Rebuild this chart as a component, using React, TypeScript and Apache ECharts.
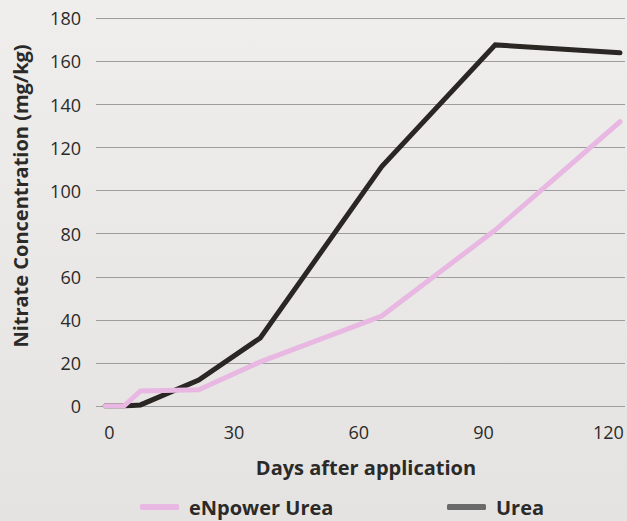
import React, { useEffect, useRef } from "react";
import * as echarts from "echarts";

const days = [-1, 3.5, 7.5, 21.5, 36.3, 65.5, 92.8, 122.8];
const enpowerUrea = [0, 0, 7, 7.5, 20.5, 41.8, 81.7, 132];
const urea = [0, 0, 0.5, 12, 31.6, 111.2, 167.7, 164];
const xTickLabels = [0, 30, 60, 90, 120];
const seriesNames = ["eNpower Urea", "Urea"];
const yAxisTitle = "Nitrate Concentration (mg/kg)";
const xAxisTitle = "Days after application";

const FONT = "'Open Sans', 'Noto Sans', sans-serif";
const TEXT = "#2b2a28";

export default function App() {
  const ref = useRef<HTMLDivElement>(null);
  useEffect(() => {
    if (!ref.current) return;
    const chart = echarts.init(ref.current, null, { renderer: "svg" });
    const legendText = {
      color: TEXT,
      fontSize: 20,
      fontWeight: "bold" as const,
      fontFamily: FONT,
      lineHeight: 20,
      padding: [0, 0, 0, 5],
    };
    chart.setOption({
      animation: false,
      backgroundColor: {
        type: "linear",
        x: 0,
        y: 0,
        x2: 0,
        y2: 1,
        colorStops: [
          { offset: 0, color: "#efeeed" },
          { offset: 1, color: "#e4e3e1" },
        ],
      },
      textStyle: { fontFamily: FONT },
      grid: { left: 96, right: 2, top: 18.4, bottom: 115, containLabel: false },
      xAxis: {
        type: "value",
        min: -3.2,
        max: 124,
        axisLine: { show: false },
        axisTick: { show: false },
        splitLine: { show: false },
        axisLabel: {
          customValues: xTickLabels,
          color: TEXT,
          fontSize: 18,
          fontFamily: FONT,
          margin: 17,
        },
      },
      yAxis: {
        type: "value",
        min: 0,
        max: 180,
        interval: 20,
        axisLine: { show: false },
        axisTick: { show: false },
        splitLine: { lineStyle: { color: "#9d9d9d", width: 1.2 } },
        axisLabel: { color: TEXT, fontSize: 18, fontFamily: FONT, margin: 15 },
      },
      legend: [
        {
          data: [{ name: seriesNames[0], itemStyle: { color: "#e8b8e3" } }],
          left: 140,
          top: 497,
          padding: 0,
          icon: "roundRect",
          itemWidth: 39,
          itemHeight: 6,
          textStyle: legendText,
        },
        {
          data: [{ name: seriesNames[1], itemStyle: { color: "#6a6a6a" } }],
          left: 447,
          top: 497,
          padding: 0,
          icon: "roundRect",
          itemWidth: 39,
          itemHeight: 6,
          textStyle: legendText,
        },
      ],
      graphic: [
        {
          type: "text",
          x: 20,
          y: 196,
          rotation: Math.PI / 2,
          style: {
            text: yAxisTitle,
            fill: TEXT,
            font: `bold 20px ${FONT}`,
            textAlign: "center",
            textVerticalAlign: "middle",
          },
        },
        {
          type: "text",
          x: 366,
          y: 467,
          style: {
            text: xAxisTitle,
            fill: TEXT,
            font: `bold 20px ${FONT}`,
            textAlign: "center",
            textVerticalAlign: "middle",
          },
        },
      ],
      series: [
        {
          name: seriesNames[1],
          type: "line",
          data: days.map((d, i) => [d, urea[i]]),
          showSymbol: false,
          symbol: "none",
          lineStyle: { color: "#2a2623", width: 5, cap: "round", join: "miter" },
          itemStyle: { color: "#2a2623" },
          z: 2,
        },
        {
          name: seriesNames[0],
          type: "line",
          data: days.map((d, i) => [d, enpowerUrea[i]]),
          showSymbol: false,
          symbol: "none",
          lineStyle: { color: "#e8b8e3", width: 5, cap: "round", join: "miter" },
          itemStyle: { color: "#e8b8e3" },
          z: 3,
        },
      ],
    });
    return () => chart.dispose();
  }, []);
  return (
    <div
      ref={ref}
      style={{ position: "absolute", left: 0, top: 0, width: 627, height: 521 }}
    />
  );
}
